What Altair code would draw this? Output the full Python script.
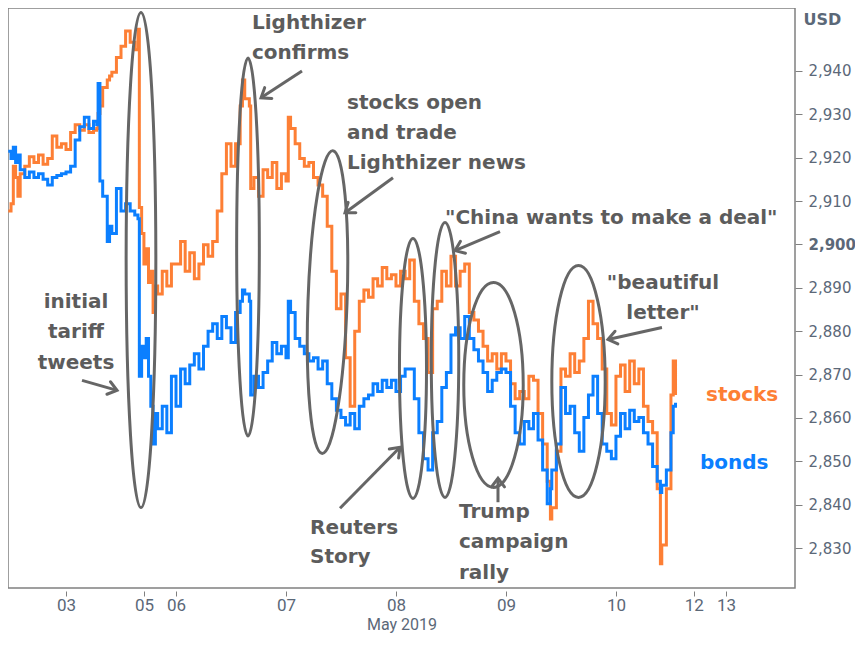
import altair as alt
import pandas as pd

# ---------------- data (trading hours since 03 May 00:00, USD) ----------------
hours = [-12.6, -12, -11.5, -11, -10.5, -10, -9, -8, -7, -6, -5, -4, -3, -2, -1,
         0, 1, 2, 3, 4, 5, 6, 6.7, 7, 7.4, 8, 9, 9.5, 10, 11, 12, 13, 14, 15, 15.7,
         16, 16.5, 17, 17.5, 18, 18.5, 19, 19.5, 20, 21, 22, 23,
         24, 25, 26, 27, 28, 29, 30, 31, 32, 33, 34, 35, 36, 37, 38, 38.5, 39, 40, 40.3,
         41, 42, 43, 44, 45, 46, 47, 48, 48.5, 49, 50, 51, 52, 53, 54, 55, 56, 57, 58, 59, 60,
         61, 62, 63, 64, 65, 66, 67, 68, 69, 70,
         71, 72, 73, 74, 75, 76, 77, 78, 79, 80,
         81, 82, 83, 84, 85, 86, 87, 88, 89, 90,
         91, 92, 93, 94, 95, 96, 97, 98, 99, 100,
         101, 102, 103, 104, 105, 105.7,
         106, 107, 108, 109, 110, 111, 112, 113, 114, 115, 116, 117,
         118, 119, 120, 121, 122, 123, 124, 125, 126, 127, 128, 129,
         129.7, 130, 131, 132, 132.5, 133]

stocks = [2907.7, 2909.4, 2918.0, 2915.4, 2911.1, 2916.3, 2918.0, 2920.2, 2918.9, 2920.6, 2918.5, 2919.8, 2925.0, 2922.4, 2923.2,
          2921.9, 2925.8, 2927.6, 2926.3, 2927.6, 2925.8, 2926.3, 2926.7, 2930.2, 2931.9, 2936.2, 2937.9, 2938.8, 2939.7, 2943.1, 2945.7, 2949.2, 2946.6, 2944.9, 2949.6,
          2908.5, 2902.5, 2895.5, 2899.0, 2891.2, 2893.8, 2884.3, 2890.4, 2888.6, 2893.8, 2890.4, 2895.5,
          2895.5, 2900.7, 2893.8, 2898.1, 2892.1, 2895.5, 2899.9, 2897.3, 2900.7, 2907.7, 2916.3, 2923.2, 2918.0, 2923.2, 2931.9, 2937.9, 2933.6, 2931.9, 2912.9,
          2915.4, 2911.1, 2917.2, 2915.4, 2918.9, 2912.9, 2916.3, 2914.6, 2929.3, 2926.7, 2923.2, 2919.8, 2918.0, 2918.9, 2915.4, 2913.7, 2911.1, 2904.2, 2893.8, 2885.2, 2888.6,
          2873.9, 2862.7, 2880.0, 2886.9, 2889.5, 2887.8, 2892.1, 2890.4, 2894.7, 2892.1,
          2893.0, 2890.4, 2893.8, 2892.1, 2896.4, 2886.9, 2881.7, 2878.3, 2870.5, 2885.2,
          2886.9, 2893.8, 2890.4, 2897.3, 2890.4, 2893.8, 2895.5, 2884.3, 2882.6, 2880.0,
          2876.5, 2873.1, 2874.8, 2871.3, 2874.8, 2873.1, 2867.9, 2864.4, 2866.1, 2864.4,
          2869.6, 2868.7, 2861.0, 2854.0, 2845.4, 2836.7,
          2839.3, 2852.3, 2871.3, 2869.6, 2874.8, 2870.5, 2873.1, 2878.3, 2886.9, 2881.7, 2878.3, 2871.3,
          2861.0, 2858.4, 2869.6, 2872.2, 2866.1, 2873.1, 2867.9, 2871.3, 2862.7, 2859.2, 2856.6, 2843.7,
          2826.4, 2830.7, 2843.7, 2865.3, 2873.1, 2865.3]

bonds = [2921.5, 2919.8, 2922.4, 2918.9, 2920.6, 2917.2, 2915.4, 2916.7, 2915.4, 2916.3, 2915.0, 2913.7, 2915.4, 2915.9, 2916.3,
         2916.7, 2918.0, 2924.1, 2927.1, 2929.3, 2926.7, 2928.4, 2927.6, 2937.1, 2914.6, 2911.1, 2900.7, 2904.2, 2902.5, 2912.9, 2907.7, 2909.4, 2907.7, 2906.8, 2905.9,
         2869.6, 2876.5, 2873.9, 2878.3, 2869.6, 2862.7, 2854.0, 2861.0, 2857.5, 2862.7, 2856.6, 2869.6,
         2862.7, 2871.3, 2867.9, 2872.2, 2874.8, 2871.3, 2876.5, 2880.0, 2881.7, 2878.3, 2883.4, 2880.8, 2877.4, 2884.3, 2886.9, 2889.5, 2888.6, 2886.9, 2865.3,
         2869.6, 2867.0, 2870.5, 2873.1, 2877.4, 2874.8, 2876.5, 2873.9, 2886.9, 2884.3, 2878.3, 2876.5, 2874.8, 2873.1, 2873.9, 2871.3, 2873.1, 2867.9, 2864.4, 2861.8, 2860.1,
         2858.4, 2861.0, 2857.5, 2862.7, 2864.4, 2865.3, 2867.9, 2866.1, 2868.7, 2867.0,
         2868.7, 2866.1, 2869.6, 2871.3, 2871.3, 2864.4, 2856.6, 2850.6, 2848.0, 2856.6,
         2859.2, 2867.0, 2870.5, 2879.1, 2880.8, 2878.3, 2883.4, 2878.3, 2875.7, 2873.1,
         2870.5, 2866.1, 2868.7, 2870.5, 2871.3, 2870.5, 2862.7, 2856.6, 2854.0, 2859.2,
         2857.5, 2861.0, 2854.9, 2848.0, 2840.2, 2843.7,
         2848.0, 2854.0, 2867.0, 2861.0, 2862.7, 2856.6, 2852.3, 2860.1, 2865.3, 2869.6, 2861.0, 2854.0,
         2852.3, 2850.6, 2855.8, 2861.0, 2857.5, 2861.8, 2859.2, 2860.1, 2856.6, 2854.0, 2848.8, 2845.4,
         2842.8, 2844.5, 2848.0, 2856.6, 2862.7, 2863.5]

x_tick_hours = [0, 17, 24, 48, 72, 96, 120, 137, 144]
x_tick_labels = ["03", "05", "06", "07", "08", "09", "10", "12", "13"]
y_ticks = list(range(2830, 2941, 10))

# annotation texts (position in hours / USD)
left_labels = ["Lighthizer", "confirms", "stocks open", "and trade", "Lighthizer news",
               "\"China wants to make a deal\"", "Reuters", "Story", "Trump", "campaign", "rally"]
left_t = [40.58, 40.58, 61.31, 61.31, 61.31, 82.70, 53.24, 53.24, 85.75, 85.75, 85.75]
left_v = [2951.05, 2944.14, 2932.64, 2925.73, 2918.83, 2906.17, 2834.59, 2827.92, 2838.27, 2831.37, 2824.23]

center_labels = ["initial", "tariff", "tweets", "\"beautiful", "letter\""]
center_t = [2.18, 2.18, 2.18, 130.26, 130.26]
center_v = [2886.84, 2879.70, 2872.57, 2891.21, 2884.30]

series_labels = ["stocks", "bonds"]
series_t = [139.65, 138.34]
series_v = [2865.20, 2849.55]

# ellipses: centre (hours, USD), height px, width/height ratio, tilt
ell_t = [16.36, 39.71, 57.06, 75.71, 82.70, 93.28, 111.83]
ell_v = [2896.39, 2899.38, 2886.72, 2871.42, 2873.37, 2867.62, 2868.42]
ell_h = [495, 378, 303, 260, 275, 205, 232]
ell_a = [0.06, 0.06, 0.129, 0.104, 0.10, 0.29, 0.23]
ell_ang = [0, 0, 2, 0, 0, 0, 0]

# arrows: from (t1, v1) to (t2, v2), head angle
arr_t1 = [3.49, 51.49, 71.35, 94.70, 59.79, 94.26, 130.04]
arr_v1 = [2868.65, 2940.00, 2915.37, 2902.95, 2839.19, 2840.57, 2880.85]
arr_t2 = [11.13, 42.55, 60.88, 84.88, 72.88, 94.26, 118.26]
arr_v2 = [2866.35, 2933.79, 2907.32, 2898.57, 2853.23, 2846.10, 2878.09]
arr_ang = [15.9, 146.6, 143.9, 157.1, 314.5, 270, 167.5]

ORANGE = "#fd7f35"
BLUE = "#0b7fff"
GREY = "#5c5c5c"
AXIS_TXT = "#5b6878"

xs = alt.Scale(domain=[-12.66, 159.07], nice=False, zero=False)
ys = alt.Scale(domain=[2820.8, 2954.5], nice=False, zero=False)

label_expr = "[" + ",".join(f"'{l}'" for l in x_tick_labels) + "][indexof([" + \
    ",".join(str(v) for v in x_tick_hours) + "], datum.value)]"

x_axis = alt.Axis(values=x_tick_hours, labelExpr=label_expr, labelFont="Roboto",
                  labelFontSize=17, labelColor=AXIS_TXT, tickColor="#808080", tickSize=5,
                  offset=3, labelPadding=1, labelOverlap=False, labelFlush=False,
                  title="May 2019", titleFont="Roboto", titleFontSize=16,
                  titleFontWeight="normal", titleColor=AXIS_TXT, titlePadding=3,
                  domain=False, grid=False)
y_axis = alt.Axis(orient="right", values=y_ticks, format=",d", labelFont="DejaVu Sans",
                  labelFontSize=15, labelColor=AXIS_TXT,
                  labelFontWeight={"expr": "datum.value == 2900 ? 'bold' : 'normal'"},
                  tickColor="#808080", tickSize=7, labelPadding=6, domain=False, grid=False,
                  title="USD", titleAngle=0, titleAlign="left", titleBaseline="middle",
                  titleX=8, titleY=11, titleFont="DejaVu Sans", titleFontSize=16,
                  titleFontWeight="bold", titleColor=AXIS_TXT)


def X(field):
    return alt.X(field, scale=xs, axis=x_axis)


def Y(field):
    return alt.Y(field, scale=ys, axis=y_axis)


df_s = pd.DataFrame({"t": hours, "v": stocks})
df_b = pd.DataFrame({"t": hours, "v": bonds})

line_s = alt.Chart(df_s).mark_line(color=ORANGE, strokeWidth=3, interpolate="step-after").encode(
    x=X("t:Q"), y=Y("v:Q"))
line_b = alt.Chart(df_b).mark_line(color=BLUE, strokeWidth=3, interpolate="step-after").encode(
    x=X("t:Q"), y=Y("v:Q"))

layers = [line_s, line_b]


def ellipse_path(a):
    k = 0.5523
    return (f"M 0 -1 C {a*k:.4f} -1 {a:.4f} {-k} {a:.4f} 0 "
            f"C {a:.4f} {k} {a*k:.4f} 1 0 1 "
            f"C {-a*k:.4f} 1 {-a:.4f} {k} {-a:.4f} 0 "
            f"C {-a:.4f} {-k} {-a*k:.4f} -1 0 -1 Z")


for t, v, h, a, ang in zip(ell_t, ell_v, ell_h, ell_a, ell_ang):
    layers.append(
        alt.Chart(pd.DataFrame({"t": [t], "v": [v]})).mark_point(
            shape=ellipse_path(a), size=h * h, filled=False, stroke="#666666",
            strokeWidth=3, opacity=1, angle=ang).encode(x=X("t:Q"), y=Y("v:Q")))

df_arr = pd.DataFrame({"t1": arr_t1, "v1": arr_v1, "t2": arr_t2, "v2": arr_v2, "ang": arr_ang})
layers.append(alt.Chart(df_arr).mark_rule(stroke="#666666", strokeWidth=3).encode(
    x=X("t1:Q"), y=Y("v1:Q"), x2="t2:Q", y2="v2:Q"))
layers.append(alt.Chart(df_arr).mark_point(
    shape="M -1 -0.75 L 0 0 L -1 0.75", size=300, filled=False, stroke="#666666",
    strokeWidth=3, opacity=1, strokeCap="round", strokeJoin="miter").encode(
    x=X("t2:Q"), y=Y("v2:Q"), angle=alt.Angle("ang:Q", scale=None)))

df_left = pd.DataFrame({"t": left_t, "v": left_v, "label": left_labels})
layers.append(alt.Chart(df_left).mark_text(
    align="left", baseline="middle", font="DejaVu Sans", fontSize=20, fontWeight="bold",
    color=GREY).encode(x=X("t:Q"), y=Y("v:Q"), text="label:N"))
df_center = pd.DataFrame({"t": center_t, "v": center_v, "label": center_labels})
layers.append(alt.Chart(df_center).mark_text(
    align="center", baseline="middle", font="DejaVu Sans", fontSize=20, fontWeight="bold",
    color=GREY).encode(x=X("t:Q"), y=Y("v:Q"), text="label:N"))
df_series = pd.DataFrame({"t": series_t, "v": series_v, "label": series_labels})
layers.append(alt.Chart(df_series).mark_text(
    align="left", baseline="middle", font="DejaVu Sans", fontSize=20, fontWeight="bold").encode(
    x=X("t:Q"), y=Y("v:Q"), text="label:N",
    color=alt.Color("label:N", scale=alt.Scale(domain=series_labels, range=[ORANGE, BLUE]),
                    legend=None)))

chart = alt.layer(*layers).properties(
    width=787, height=580,
    autosize=alt.AutoSizeParams(type="none"),
    padding={"left": 0, "top": 0, "right": 60, "bottom": 47}
).configure_view(stroke="#808080", strokeWidth=1.5)

chart.save("out.html", embed_options={"renderer": "svg", "actions": False})
